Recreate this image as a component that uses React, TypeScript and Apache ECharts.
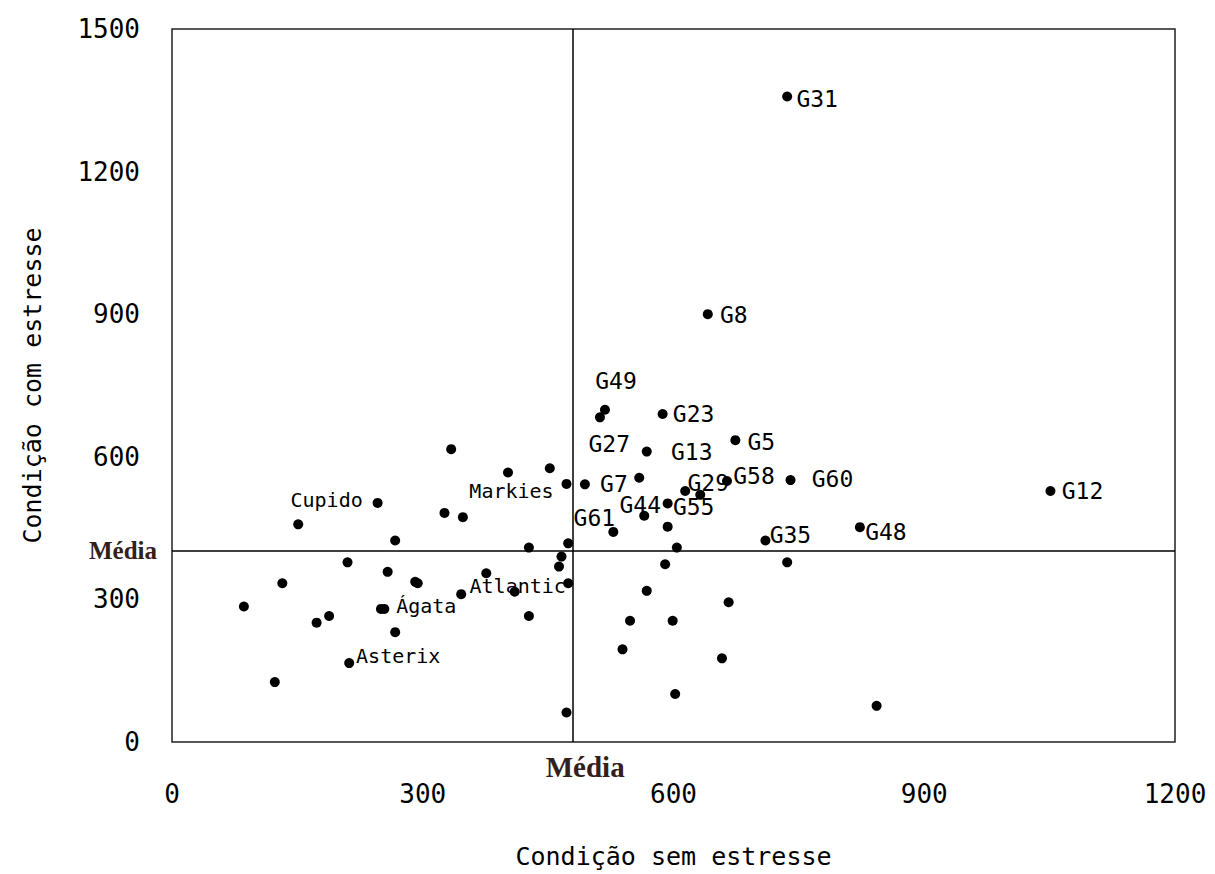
import React, { useEffect, useRef } from "react";
import * as echarts from "echarts";

// Data
const names: string[] = [
  "", "", "", "Markies", "Cupido", "", "", "", "", "",
  "", "", "", "", "", "", "", "", "", "",
  "", "Atlantic", "", "", "Ágata", "", "", "", "", "Asterix",
  "", "", "", "G49", "G23", "G8", "G5", "G13", "G31", "G7",
  "G27", "G29", "", "G58", "G60", "G55", "G44", "G61", "", "",
  "G35", "G48", "", "", "", "", "", "", "", "",
  "", "", "G12",
];
const semEstresse: number[] = [
  334, 402, 452, 472, 246, 326, 348, 151, 267, 427,
  474, 210, 466, 463, 258, 291, 294, 376, 474, 132,
  346, 410, 86, 250, 254, 188, 173, 427, 267, 212,
  123, 472, 518, 512, 587, 641, 674, 568, 736, 494,
  559, 614, 632, 664, 740, 593, 565, 528, 593, 604,
  710, 823, 736, 590, 568, 666, 548, 599, 539, 658,
  602, 843, 1051,
];
const comEstresse: number[] = [
  616, 567, 576, 543, 503, 482, 473, 458, 424, 409,
  418, 378, 390, 369, 358, 337, 334, 355, 334, 334,
  311, 316, 285, 280, 280, 265, 251, 265, 231, 166,
  126, 62, 699, 683, 690, 900, 635, 611, 1358, 542,
  556, 528, 520, 549, 551, 502, 476, 442, 453, 409,
  424, 452, 378, 374, 318, 294, 255, 255, 195, 176,
  101, 76, 528,
];
const mediaSem = 480;
const mediaCom = 402;
const xTicks = { min: 0, max: 1200, interval: 300 };
const yTicks = { min: 0, max: 1500, interval: 300 };

// Label placement (style only): offset of label centre from the point, px
const labelOffsets: Record<string, [number, number]> = {
  G31: [30, 3],
  G8: [26, 1],
  G49: [16, -36],
  G23: [31, 0],
  G27: [-30, -34],
  G13: [45, 0],
  G5: [26, 2],
  G7: [29, 0],
  G29: [23, -8],
  G58: [27, -5],
  G60: [42, -1],
  G55: [26, 4],
  G44: [-4, -11],
  G61: [-19, -14],
  G35: [25, -5],
  G48: [26, 5],
  G12: [32, 0],
  Markies: [-55, 7],
  Cupido: [-51, -3],
  Atlantic: [3, -6],
  "Ágata": [42, -3],
  Asterix: [49, -7],
};

const MONO = "'DejaVu Sans Mono', monospace";

export default function App() {
  const ref = useRef<HTMLDivElement>(null);
  useEffect(() => {
    if (!ref.current) return;
    const chart = echarts.init(ref.current, undefined, { renderer: "svg" });
    const data = semEstresse.map((x, i) => {
      const n = names[i];
      const item: any = { value: [x, comEstresse[i]], name: n };
      if (n) {
        const isG = /^G\d+$/.test(n);
        item.label = {
          show: true,
          position: "inside",
          offset: labelOffsets[n] || [25, 0],
          formatter: n,
          color: "#000",
          fontFamily: MONO,
          fontSize: isG ? 23 : 20,
        };
      }
      return item;
    });
    chart.setOption({
      animation: false,
      backgroundColor: "#fff",
      grid: {
        left: 172,
        right: 40,
        top: 29,
        bottom: 132,
        show: true,
        borderColor: "#222",
        borderWidth: 1.5,
        backgroundColor: "transparent",
      },
      xAxis: {
        type: "value",
        min: xTicks.min,
        max: xTicks.max,
        interval: xTicks.interval,
        name: "Condição sem estresse",
        nameLocation: "middle",
        nameGap: 102,
        nameTextStyle: { fontFamily: MONO, fontSize: 25, color: "#000" },
        axisLine: { show: false },
        axisTick: { show: false },
        splitLine: { show: false },
        axisLabel: {
          fontFamily: MONO,
          fontSize: 26,
          color: "#000",
          margin: 39,
          formatter: (v: number) => String(v),
        },
      },
      yAxis: {
        type: "value",
        min: yTicks.min,
        max: yTicks.max,
        interval: yTicks.interval,
        name: "Condição com estresse",
        nameLocation: "middle",
        nameGap: 127,
        nameTextStyle: { fontFamily: MONO, fontSize: 25, color: "#000" },
        axisLine: { show: false },
        axisTick: { show: false },
        splitLine: { show: false },
        axisLabel: {
          fontFamily: MONO,
          fontSize: 26,
          color: "#000",
          margin: 32,
          formatter: (v: number) => String(v),
        },
      },
      series: [
        {
          type: "scatter",
          symbol: "circle",
          symbolSize: 10,
          itemStyle: { color: "#000", opacity: 1 },
          label: { show: false },
          data,
          markLine: {
            silent: true,
            symbol: "none",
            lineStyle: { color: "#000", width: 1.5, type: "solid", opacity: 1 },
            label: {
              fontFamily: "'Liberation Serif', serif",
              fontWeight: "bold",
              color: "#33201c",
            },
            data: [
              {
                xAxis: mediaSem,
                label: {
                  show: true,
                  position: "start",
                  formatter: "Média",
                  distance: 10,
                  offset: [12, 0],
                  fontSize: 29,
                },
              },
              {
                yAxis: mediaCom,
                label: {
                  show: true,
                  position: "start",
                  formatter: "Média",
                  distance: 15,
                  fontSize: 25,
                },
              },
            ],
          },
        },
      ],
    });
    return () => chart.dispose();
  }, []);
  return (
    <div
      ref={ref}
      style={{ position: "fixed", left: 0, top: 0, width: 1215, height: 874, background: "#fff" }}
    />
  );
}
